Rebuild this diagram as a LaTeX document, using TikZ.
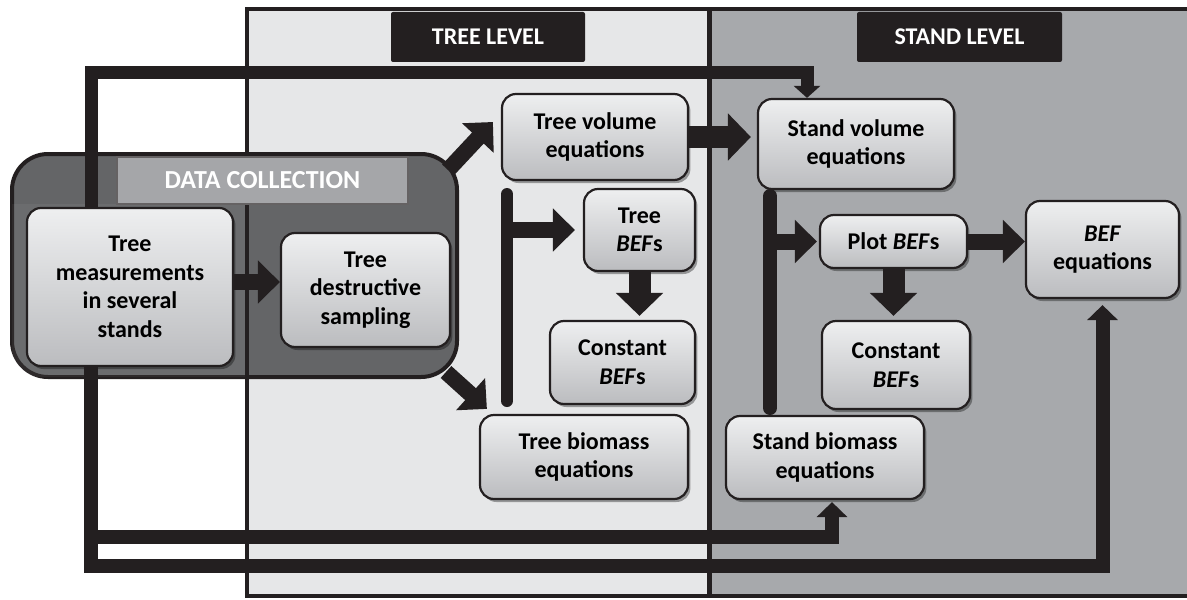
\documentclass[tikz,border=0pt]{standalone}
\usepackage{fontspec}
\setmainfont{Carlito}
\usetikzlibrary{arrows.meta,calc,shadows,positioning}
\definecolor{ink}{HTML}{231F20}
\definecolor{treebg}{HTML}{E6E7E8}
\definecolor{standbg}{HTML}{A7A9AC}
\definecolor{dcgray}{HTML}{646567}
\definecolor{dclab}{HTML}{A5A6A9}
\definecolor{boxtop}{HTML}{EEEFF0}
\definecolor{boxbot}{HTML}{BBBCBF}

\begin{document}
\begin{tikzpicture}[x=0.5pt,y=-0.5pt,font=\fontsize{12}{14.3}\selectfont\bfseries,
  box/.style={draw=ink,line width=1.1pt,rounded corners=7pt,top color=boxtop,bottom color=boxbot,align=center,inner sep=2pt,
    drop shadow={shadow xshift=1.2pt,shadow yshift=-1.5pt,fill=black,opacity=.35}},
  tag/.style={fill=ink,text=white,rounded corners=1pt,minimum width=#1,minimum height=25pt},
  fat/.style={draw=ink,line width=8pt,-{Triangle[length=11pt,width=21pt]}},
  fatter/.style={draw=ink,line width=11pt,-{Triangle[length=11.5pt,width=23pt]}},
  wire/.style={draw=ink,line width=7pt,-{Triangle[length=7.5pt,width=15pt]}}]
\useasboundingbox (0,0) rectangle (1187,599);
% the two levels
\fill[treebg] (247,9) rectangle (709.5,596);
\fill[standbg] (709.5,9) rectangle (1190,596);
% data collection
\node[draw=ink,line width=2pt,fill=dcgray,rounded corners=18pt,minimum width=222.5pt,minimum height=111.5pt] (dcbox) at (234.5,265.5) {};
\fill[white,opacity=.05] (12,204) rectangle (245,377);
\draw[ink,line width=2pt] (1190,9.5) -- (247,9.5) -- (247,596) -- (1190,596);
\draw[ink,line width=2.5pt] (709.5,9.5) -- (709.5,596);
\node[fill=dclab,draw=ink!70,line width=.8pt,text=white,minimum width=145.5pt,minimum height=23.5pt,font=\fontsize{13}{15}\selectfont\bfseries] (dclabel) at (262.5,180.5) {DATA COLLECTION};
\node[tag=97pt] (treelvl) at (488,37) {TREE LEVEL};
\node[tag=102.5pt] (standlvl) at (959.5,37) {STAND LEVEL};
% boxes
\node[box,minimum width=103pt,minimum height=79pt] (meas) at (130,287) {Tree\\measurements\\in several\\stands};
\node[box,minimum width=84.5pt,minimum height=57pt] (destr) at (365.5,290) {Tree\\destructive\\sampling};
\node[box,minimum width=93pt,minimum height=43pt] (tvol) at (595,137) {Tree volume\\equations};
\node[box,minimum width=55.5pt,minimum height=41pt] (tbef) at (639.5,230) {Tree\\\textit{BEF}s};
\node[box,minimum width=72.5pt,minimum height=41.5pt] (tconst) at (622.5,362.5) {Constant\\\textit{BEF}s};
\node[box,minimum width=104pt,minimum height=42pt] (tbio) at (584,457) {Tree biomass\\equations};
\node[box,minimum width=98pt,minimum height=45pt] (svol) at (856,144) {Stand volume\\equations};
\node[box,minimum width=73.5pt,minimum height=26.5pt] (pbef) at (893.5,241.5) {Plot \textit{BEF}s};
\node[box,minimum width=74pt,minimum height=44pt] (sconst) at (896,365) {Constant\\\textit{BEF}s};
\node[box,minimum width=99pt,minimum height=41.5pt] (sbio) at (825,457.5) {Stand biomass\\equations};
\node[box,minimum width=76.5pt,minimum height=48.5pt] (befeq) at (1102.5,249.5) {\textit{BEF}\\equations};
% long feedback lines
\coordinate (tl) at (91,73); \coordinate (tr) at (807,73);
\draw[ink,line width=6.5pt,-{Triangle[length=6pt,width=13pt]}] (meas.north -| tl) -- (tl) -- (tr) -- (tr |- svol.north);
\coordinate (bl) at (91,566); \coordinate (bm) at (91,537);
\draw[wire,shorten >=3pt] (meas.south -| bl) -- (bl) -| (befeq.south);
\draw[wire,shorten >=1pt] (bm) -| ([xshift=3.5pt]sbio.south);
% bars
\coordinate (tb1) at (507,194); \coordinate (tb2) at (507,401);
\coordinate (sb1) at (770,196); \coordinate (sb2) at (770,408);
\draw[ink,line width=6pt,line cap=round] (tb1) -- (tb2);
\draw[ink,line width=7pt,line cap=round] (sb1) -- (sb2);
% arrows
\draw[fat] ([yshift=4pt]destr.west -| meas.east) -- ([yshift=4pt]destr.west);
\draw[fat] ([shift={(-11,18)}]dcbox.north east) -- ([shift={(-8,-15)}]tvol.west);
\draw[fat] ([shift={(-13,-7)}]dcbox.south east) -- ([shift={(8,-5)}]tbio.north west);
\draw[fat,shorten >=4pt] (tbef.west -| tb1) -- (tbef.west);
\draw[fatter,shorten >=2pt] (tbef.south) -- (tbef.south |- tconst.north);
\draw[fatter,shorten >=3pt] (tvol.east) -- (tvol.east -| svol.west);
\draw[fat,shorten >=1pt] (pbef.west -| sb1) -- (pbef.west);
\draw[fatter,shorten >=2pt] (pbef.south) -- (pbef.south |- sconst.north);
\draw[fat] (pbef.east) -- (pbef.east -| befeq.west);
\end{tikzpicture}
\end{document}
